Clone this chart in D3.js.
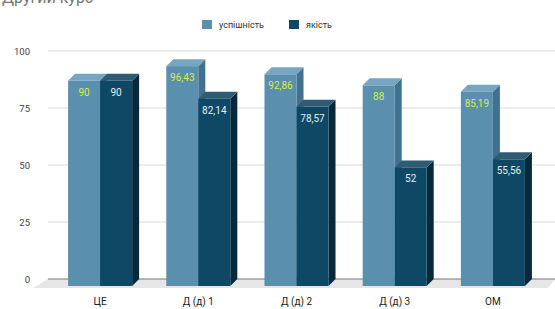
<!DOCTYPE html>
<html>
<head>
<meta charset="utf-8">
<script src="https://cdn.jsdelivr.net/npm/d3@7"></script>
<style>
  body { margin: 0; background: #fff; }
  text { font-family: Roboto, "Liberation Sans", sans-serif; }
</style>
</head>
<body>
<script>
const categories = ["ЦЕ", "Д (д) 1", "Д (д) 2", "Д (д) 3", "ОМ"]
const seriesNames = ["успішність", "якість"]
const uspishnist = [90, 96.43, 92.86, 88, 85.19]
const yakist = [90, 82.14, 78.57, 52, 55.56]
const yTicks = [0, 25, 50, 75, 100]

const width = 555, height = 309
const dx = 7, dy = 7

// front, top, side colours per series
const colors = [
    {front: "#5a8fae", top: "#78a5c1", side: "#40718e", label: "#d8ec4c"},
    {front: "#0e4865", top: "#2f5c72", side: "#072a3b", label: "#e4eef3"}
]

const svg = d3.select("body")
    .append("svg")
    .attr("width", width)
    .attr("height", height)

// back-wall scale
const y = d3.scaleLinear().domain([0, 100]).range([279, 51])

const x = d3.scaleBand()
    .domain(categories)
    .range([51, 542])
    .paddingInner(0.348)
    .paddingOuter(0.174)

const xs = d3.scaleBand()
    .domain(seriesNames)
    .range([0, x.bandwidth()])

// title (cut at top in the reference)
svg.append("text")
    .attr("x", 2).attr("y", 3)
    .attr("font-size", 16)
    .attr("fill", "#777")
    .text("Другий курс")

// floor
svg.append("polygon")
    .attr("points", [[48, y(0)], [555, y(0)], [548, y(0) + dy + 2], [33, y(0) + dy + 2]].join(" "))
    .attr("fill", "#e6e6e6")

// gridlines
svg.selectAll("line.grid")
    .data(yTicks)
    .enter()
    .append("line")
    .attr("x1", 48).attr("x2", 555)
    .attr("y1", d => y(d)).attr("y2", d => y(d))
    .attr("stroke", d => d === 0 ? "#777" : "#d9d9d9")
    .attr("stroke-width", 1)

svg.selectAll("text.ytick")
    .data(yTicks)
    .enter()
    .append("text")
    .attr("x", 30)
    .attr("y", d => y(d) + 3.5)
    .attr("text-anchor", "end")
    .attr("font-size", 9.5)
    .attr("fill", "#444")
    .text(d => d)

const fmt = v => String(v).replace(".", ",")

categories.forEach((c, i) => {
    const vals = [uspishnist[i], yakist[i]]
    vals.forEach((v, s) => {
        const col = colors[s]
        const x0 = x(c) + xs(seriesNames[s])
        const w = xs.bandwidth()
        const yt = y(v) + dy
        const yb = y(0) + dy
        const g = svg.append("g")
        // side
        g.append("polygon")
            .attr("points", [[x0 + w, yt], [x0 + w + dx, yt - dy], [x0 + w + dx, yb - dy], [x0 + w, yb]].join(" "))
            .attr("fill", col.side)
        // top
        g.append("polygon")
            .attr("points", [[x0, yt], [x0 + dx, yt - dy], [x0 + w + dx, yt - dy], [x0 + w, yt]].join(" "))
            .attr("fill", col.top)
        // front
        g.append("rect")
            .attr("x", x0).attr("y", yt)
            .attr("width", w).attr("height", yb - yt)
            .attr("fill", col.front)
        g.append("text")
            .attr("x", x0 + w / 2)
            .attr("y", yt + 15)
            .attr("text-anchor", "middle")
            .attr("font-size", 10)
            .attr("fill", col.label)
            .text(fmt(v))
    })
    svg.append("text")
        .attr("x", x(c) + x.bandwidth() / 2)
        .attr("y", 305)
        .attr("text-anchor", "middle")
        .attr("font-size", 10)
        .attr("fill", "#222")
        .text(c)
})

// legend
const legendX = [202, 289]
seriesNames.forEach((n, s) => {
    svg.append("rect")
        .attr("x", legendX[s]).attr("y", 20)
        .attr("width", 10).attr("height", 9)
        .attr("fill", colors[s].front)
    svg.append("text")
        .attr("x", legendX[s] + 17).attr("y", 28)
        .attr("font-size", 9)
        .attr("fill", "#333")
        .text(n)
})
</script>
</body>
</html>
